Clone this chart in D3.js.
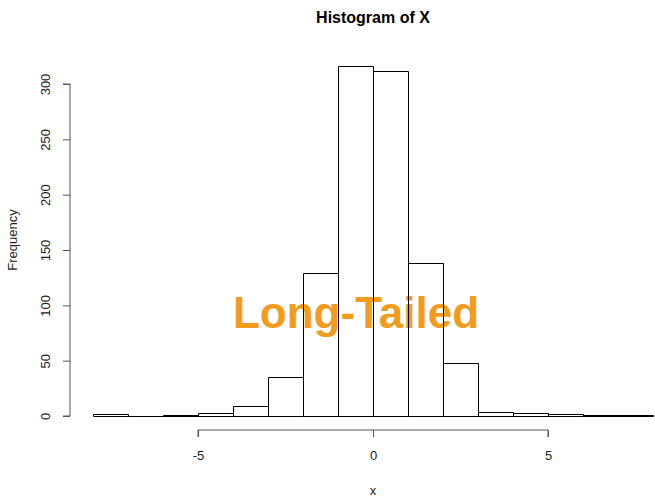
<!DOCTYPE html>
<html>
<head>
<meta charset="utf-8">
<script src="https://cdn.jsdelivr.net/npm/d3@7"></script>
<style>
  body { margin: 0; background: #fff; }
  text { font-family: "Liberation Sans", Arial, sans-serif; }
</style>
</head>
<body>
<div id="chart"></div>
<script>
// bin edges and counts
const binEdges = [-8, -7, -6, -5, -4, -3, -2, -1, 0, 1, 2, 3, 4, 5, 6, 7, 8];
const counts = [2, 0, 1, 3, 9, 35, 129, 316, 312, 138, 48, 4, 3, 2, 1, 1];
const xTicks = [-5, 0, 5];
const yTicks = [0, 50, 100, 150, 200, 250, 300];

const chartWidth = 655;
const chartHeight = 500;

const bins = counts.map((c, i) => ({x0: binEdges[i], x1: binEdges[i + 1], n: c}));

//Scale data
const xScale = d3.scaleLinear()
  .domain([0, 5])
  .range([373, 548]);

const yScale = d3.scaleLinear()
  .domain([0, 300])
  .range([416, 84]);

//Init chart
const chart = d3.select('#chart')
  .append('svg')
  .attr('width', chartWidth)
  .attr('height', chartHeight);

// overlay label (drawn under the unfilled bars)
chart.append('text')
  .attr('x', 356)
  .attr('y', 328)
  .attr('text-anchor', 'middle')
  .style('font-size', '44px')
  .style('font-weight', 'bold')
  .style('fill', '#f29b1d')
  .text('Long-Tailed');

//Bars (paths so that empty bins still show as a line)
const px = v => Math.round(v) + 0.5;
chart.append('g')
  .selectAll('path')
  .data(bins)
  .enter()
  .append('path')
  .attr('d', d => {
    const x0 = px(xScale(d.x0)), x1 = px(xScale(d.x1));
    const y0 = px(yScale(0)), y1 = px(yScale(d.n));
    return `M${x0},${y0}V${y1}H${x1}V${y0}Z`;
  })
  .attr('fill', 'none')
  .attr('stroke', '#000')
  .attr('stroke-width', 1);

//Axes
const xAxis = d3.axisBottom(xScale)
  .tickValues(xTicks)
  .tickFormat(d3.format('d'))
  .tickSize(7)
  .tickPadding(14);
const gx = chart.append('g')
  .attr('transform', 'translate(0, 430)')
  .call(xAxis);

const yAxis = d3.axisLeft(yScale)
  .tickValues(yTicks)
  .tickFormat(d3.format('d'))
  .tickSize(7)
  .tickPadding(11);
const gy = chart.append('g')
  .attr('transform', 'translate(70, 0)')
  .call(yAxis);

[gx, gy].forEach(g => {
  g.selectAll('.tick line').attr('stroke', '#555');
  g.selectAll('text')
    .style('font-family', '"Liberation Sans", Arial, sans-serif')
    .style('font-size', '13px')
    .attr('fill', '#222');
});
// R-style axis lines spanning first to last tick
gx.select('.domain').attr('stroke', '#555').attr('d', `M${xScale(-5)},7V0H${xScale(5)}V7`);
gy.select('.domain').attr('stroke', '#555').attr('d', `M-7,${yScale(0)}H0V${yScale(300)}H-7`);
gx.selectAll('.tick text').text(d => d < 0 ? '-' + Math.abs(d) : d);

gy.selectAll('.tick text')
  .attr('text-anchor', 'middle')
  .attr('x', 0)
  .attr('dy', 0)
  .attr('transform', 'translate(-20,0) rotate(-90)');

//Titles
chart.append('text')
  .attr('x', 373)
  .attr('y', 23)
  .attr('text-anchor', 'middle')
  .style('font-size', '16px')
  .style('font-weight', 'bold')
  .text('Histogram of X');

chart.append('text')
  .attr('x', 373)
  .attr('y', 495)
  .attr('text-anchor', 'middle')
  .style('font-size', '13px')
  .style('fill', '#222')
  .text('x');

chart.append('text')
  .attr('transform', 'translate(17, 240) rotate(-90)')
  .attr('text-anchor', 'middle')
  .style('font-size', '13px')
  .style('fill', '#222')
  .text('Frequency');
</script>
</body>
</html>
